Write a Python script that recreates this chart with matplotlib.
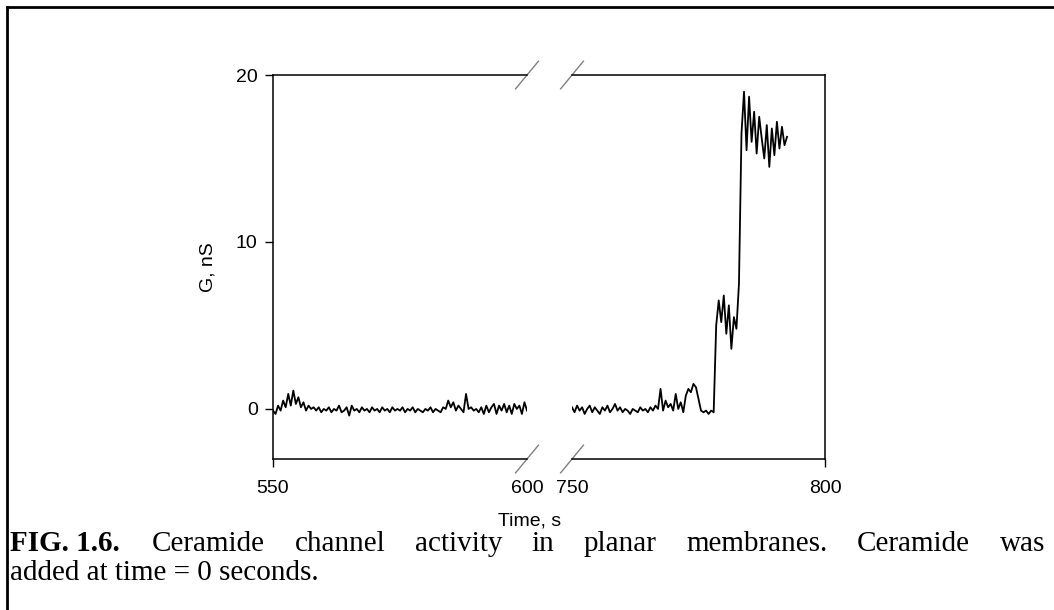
import numpy as np
import matplotlib.pyplot as plt
from matplotlib.lines import Line2D

plt.rcParams['font.family'] = ['Liberation Sans', 'DejaVu Sans']

# sampled conductance trace, dt = 0.5 s
dt = 0.5
t0_left = 550.0
g_left = [
    -0.1, -0.3, 0.2, -0.1, 0.5, 0.1, 0.9, 0.2, 1.1, 0.3,
    0.7, 0.1, 0.4, -0.1, 0.2, 0.0, 0.1, -0.1, 0.1, -0.2,
    0.0, -0.1, 0.1, -0.2, 0.0, -0.1, 0.2, -0.2, -0.1, 0.1,
    -0.4, 0.2, -0.1, 0.0, -0.2, 0.1, -0.1, 0.0, -0.2, 0.1,
    -0.1, 0.0, -0.2, 0.1, -0.1, 0.0, -0.2, 0.1, -0.1, 0.0,
    -0.1, 0.1, -0.2, 0.0, -0.1, 0.1, -0.2, 0.0, -0.1, -0.2,
    0.0, -0.1, 0.1, -0.2, 0.0, -0.1, -0.2, 0.1, 0.0, 0.5,
    0.1, 0.4, -0.1, 0.2, 0.0, -0.2, 0.9, 0.0, 0.1, -0.1,
    0.0, -0.2, 0.1, -0.3, 0.2, -0.2, 0.1, 0.3, -0.3, 0.2,
    -0.1, 0.3, -0.2, 0.2, -0.3, 0.3, 0.0, 0.2, -0.3, 0.4,
    -0.1,
]
t0_right = 750.0
g_right = [
    0.1, -0.2, 0.2, -0.1, 0.1, -0.3, 0.0, 0.2, -0.2, 0.1,
    -0.1, -0.3, 0.1, -0.1, 0.2, -0.2, 0.0, 0.3, -0.1, 0.1,
    -0.2, 0.0, -0.1, -0.3, 0.0, -0.1, -0.2, 0.1, -0.1, 0.0,
    -0.2, 0.1, -0.1, 0.2, 0.0, 1.2, -0.1, 0.5, 0.1, 0.3,
    -0.1, 0.9, 0.0, 0.4, -0.2, 0.8, 1.2, 1.0, 1.5, 1.3,
    0.6, -0.1, -0.2, -0.1, -0.3, -0.1, -0.2, 5.0, 6.5, 5.2,
    6.8, 4.5, 6.2, 3.6, 5.5, 4.8, 7.5, 16.5, 19.0, 15.5,
    18.7, 16.0, 17.8, 15.3, 17.5, 16.2, 15.0, 17.0, 14.5, 16.8,
    15.2, 17.2, 15.6, 16.9, 15.8, 16.3,
]
t_left = t0_left + dt * np.arange(len(g_left))
t_right = t0_right + dt * np.arange(len(g_right))

fig = plt.figure(figsize=(10.54, 6.10), dpi=100)
ax1 = fig.add_axes([0.2590, 0.2475, 0.2410, 0.6295])
ax2 = fig.add_axes([0.5427, 0.2475, 0.2400, 0.6295])

ax1.plot(t_left, g_left, color='black', lw=1.3)
ax2.plot(t_right, g_right, color='black', lw=1.3)

ax1.set_xlim(550, 600)
ax2.set_xlim(750, 800)
for ax in (ax1, ax2):
    ax.set_ylim(-3, 20)
    ax.tick_params(direction='out', length=6, width=1, labelsize=14, pad=5)
    ax.tick_params(axis='x', pad=9)
    for s in ax.spines.values():
        s.set_linewidth(1.1)

ax1.spines['right'].set_visible(False)
ax2.spines['left'].set_visible(False)
ax1.set_yticks([0, 10, 20])
ax2.set_yticks([])
ax1.set_xticks([550, 600])
ax2.set_xticks([750, 800])
ax1.xaxis.get_major_ticks()[1].tick1line.set_visible(False)
ax2.xaxis.get_major_ticks()[0].tick1line.set_visible(False)
ax1.set_ylabel('G, nS', fontsize=14, labelpad=14)

# break marks
d = 0.045
kw = dict(color='gray', lw=1, clip_on=False)
for yy in (0, 1):
    ax1.plot([1 - d, 1 + d], [yy - d * 0.8, yy + d * 0.8], transform=ax1.transAxes, **kw)
    ax2.plot([-d, d], [yy - d * 0.8, yy + d * 0.8], transform=ax2.transAxes, **kw)

fig.text(530 / 1054, 1 - 521 / 610, 'Time, s', fontsize=14, ha='center', va='center')

# frame
fig.add_artist(Line2D([7 / 1054, 1], [1 - 7 / 610, 1 - 7 / 610], color='black', lw=2))
fig.add_artist(Line2D([7 / 1054, 7 / 1054], [0, 1 - 7 / 610], color='black', lw=2))

# caption, first line justified
serif = ['Liberation Serif', 'DejaVu Serif']
cap_size = 21
y1 = 1 - 551 / 610
y2 = 1 - 580 / 610
fig.text(10 / 1054, y1, 'FIG. 1.6.', fontsize=cap_size, fontweight='bold',
         family=serif, ha='left', va='baseline')
words = ['Ceramide', 'channel', 'activity', 'in', 'planar', 'membranes.', 'Ceramide', 'was']
texts = [fig.text(0, y1, w, fontsize=cap_size, family=serif, ha='left', va='baseline')
         for w in words]
fig.canvas.draw()
r = fig.canvas.get_renderer()
widths = [t.get_window_extent(r).width for t in texts]
x_start, x_end = 152, 1045
gap = (x_end - x_start - sum(widths)) / (len(words) - 1)
x = x_start
for t, w in zip(texts, widths):
    t.set_x(x / 1054)
    x += w + gap
fig.text(10 / 1054, y2, 'added at time = 0 seconds.', fontsize=cap_size,
         family=serif, ha='left', va='baseline')

fig.savefig('out.png', dpi=100)
